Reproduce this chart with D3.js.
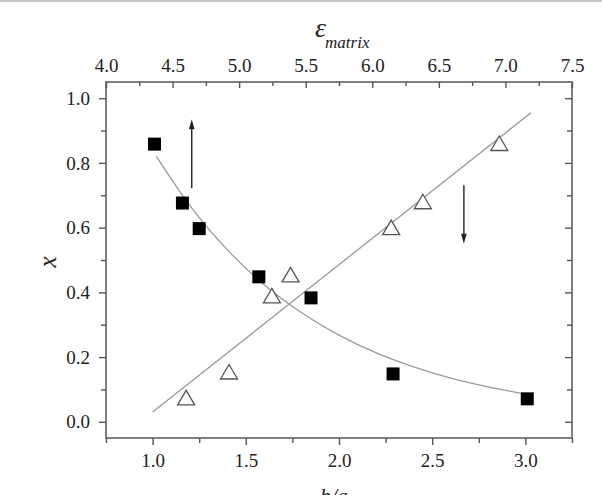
<html>
<head>
<meta charset="utf-8">
<script src="https://d3js.org/d3.v7.min.js"></script>
<style>
  body { margin: 0; background: #fff; }
  svg text { font-family: "Liberation Serif", "Times New Roman", "DejaVu Serif", "Noto Serif", serif; fill: #222; }
  .axis path, .axis line { stroke: #555; stroke-width: 1.4; }
</style>
</head>
<body>
<svg id="graph" width="602" height="495"></svg>
<script>
// filled squares
var squareX = [1.01, 1.16, 1.25, 1.57, 1.85, 2.29, 3.01];
var squareY = [0.858, 0.676, 0.597, 0.448, 0.383, 0.148, 0.071];
// open triangles
var triX = [1.18, 1.41, 1.64, 1.74, 2.28, 2.45, 2.86];
var triY = [0.074, 0.154, 0.389, 0.454, 0.600, 0.680, 0.860];
// fitted lines
var riseX = [1.00, 3.03];
var riseY = [0.030, 0.955];
var fallX = [1.02, 1.2, 1.4, 1.6, 1.8, 2.0, 2.2, 2.4, 2.6, 2.8, 3.0];
var fallY = [0.820, 0.668, 0.532, 0.423, 0.337, 0.268, 0.213, 0.170, 0.135, 0.108, 0.086];
// arrows [x, yFrom, yTo]
var arrowUp = [1.21, 0.722, 0.935];
var arrowDown = [2.67, 0.731, 0.550];
// ticks
var bottomTicks = [1.0, 1.5, 2.0, 2.5, 3.0];
var bottomMinor = [0.75, 1.25, 1.75, 2.25, 2.75, 3.25];
var topTicks = [4.0, 4.5, 5.0, 5.5, 6.0, 6.5, 7.0, 7.5];
var topMinor = [4.25, 4.75, 5.25, 5.75, 6.25, 6.75, 7.25];
var leftTicks = [0.0, 0.2, 0.4, 0.6, 0.8, 1.0];
var leftMinor = [0.1, 0.3, 0.5, 0.7, 0.9];

var FONT = '"Liberation Serif", "Times New Roman", "DejaVu Serif", serif';
var svg = d3.select("#graph");
var L = 106, R = 572, T = 82, B = 438;

var x = d3.scaleLinear().domain([0.75, 3.25]).range([L, R]);
var xTop = d3.scaleLinear().domain([4.0, 7.5]).range([L, R]);
var y = d3.scaleLinear().domain([-0.05, 1.05]).range([B, T]);

svg.append("rect").attr("x", 0).attr("y", 0).attr("width", 602).attr("height", 2)
    .attr("fill", "#c8c8c8");

function styleAxis(g) {
    g.attr("class", "axis").attr("font-family", FONT).attr("font-size", 19);
    g.select(".domain").remove();
    g.selectAll("text").attr("fill", "#222");
}

// bottom
svg.append("g").attr("transform", "translate(0," + B + ")")
    .call(d3.axisBottom(x).tickValues(bottomTicks).tickFormat(d3.format(".1f")).tickSize(7).tickPadding(9))
    .call(styleAxis);
svg.append("g").attr("transform", "translate(0," + B + ")")
    .call(d3.axisBottom(x).tickValues(bottomMinor).tickFormat("").tickSize(5))
    .call(styleAxis);
// top (ticks inward)
svg.append("g").attr("transform", "translate(0," + T + ")")
    .call(d3.axisTop(xTop).tickValues(topTicks).tickFormat(d3.format(".1f")).tickSize(-6).tickPadding(10))
    .call(styleAxis);
svg.append("g").attr("transform", "translate(0," + T + ")")
    .call(d3.axisTop(xTop).tickValues(topMinor).tickFormat("").tickSize(-4))
    .call(styleAxis);
// left
svg.append("g").attr("transform", "translate(" + L + ",0)")
    .call(d3.axisLeft(y).tickValues(leftTicks).tickFormat(d3.format(".1f")).tickSize(7).tickPadding(9))
    .call(styleAxis);
svg.append("g").attr("transform", "translate(" + L + ",0)")
    .call(d3.axisLeft(y).tickValues(leftMinor).tickFormat("").tickSize(5))
    .call(styleAxis);
// right (ticks inward)
svg.append("g").attr("transform", "translate(" + R + ",0)")
    .call(d3.axisRight(y).tickValues(leftTicks).tickFormat("").tickSize(-7))
    .call(styleAxis);
svg.append("g").attr("transform", "translate(" + R + ",0)")
    .call(d3.axisRight(y).tickValues(leftMinor).tickFormat("").tickSize(-5))
    .call(styleAxis);

// frame
svg.append("rect").attr("x", L).attr("y", T).attr("width", R - L).attr("height", B - T)
    .attr("fill", "none").attr("stroke", "#555").attr("stroke-width", 1.5);

// fit lines
var line = d3.line().x(d => x(d[0])).y(d => y(d[1]));
svg.append("path").attr("d", line(riseX.map((v, i) => [v, riseY[i]])))
    .attr("fill", "none").attr("stroke", "#9a9a9a").attr("stroke-width", 1.3);
svg.append("path").attr("d", line.curve(d3.curveMonotoneX)(fallX.map((v, i) => [v, fallY[i]])))
    .attr("fill", "none").attr("stroke", "#9a9a9a").attr("stroke-width", 1.3);

// triangles
svg.append("g").selectAll("path").data(triX.map((v, i) => [v, triY[i]])).enter()
    .append("path")
    .attr("transform", d => "translate(" + x(d[0]) + "," + y(d[1]) + ")")
    .attr("d", "M0,-7.5L8.5,7L-8.5,7Z")
    .attr("fill", "#fff").attr("stroke", "#555").attr("stroke-width", 1.3);

// squares
svg.append("g").selectAll("rect").data(squareX.map((v, i) => [v, squareY[i]])).enter()
    .append("rect")
    .attr("x", d => x(d[0]) - 6.5).attr("y", d => y(d[1]) - 6.5)
    .attr("width", 13).attr("height", 13).attr("fill", "#000");

// arrows
function arrow(a) {
    var ax = x(a[0]), y0 = y(a[1]), y1 = y(a[2]);
    var dir = y1 < y0 ? -1 : 1;
    svg.append("line").attr("x1", ax).attr("x2", ax).attr("y1", y0).attr("y2", y1 - dir * 6)
        .attr("stroke", "#222").attr("stroke-width", 1.4);
    svg.append("path")
        .attr("d", "M" + ax + "," + y1 + "L" + (ax + 2.8) + "," + (y1 - dir * 10) + "L" + (ax - 2.8) + "," + (y1 - dir * 10) + "Z")
        .attr("fill", "#222");
}
arrow(arrowUp);
arrow(arrowDown);

// axis titles
svg.append("text").attr("x", 47).attr("y", (T + B) / 2 + 2)
    .attr("transform", "rotate(-90,47," + ((T + B) / 2 + 2) + ")")
    .attr("text-anchor", "middle").attr("dy", "0.35em")
    .style("font-style", "italic").style("font-size", "25px").text("x");
svg.append("text").attr("x", (L + R) / 2 - 5).attr("y", 503)
    .attr("text-anchor", "middle")
    .style("font-style", "italic").style("font-size", "22px").text("b/a");
var t = svg.append("text").attr("x", 315).attr("y", 37);
t.append("tspan").style("font-style", "italic").style("font-size", "28px").text("ε");
t.append("tspan").attr("dy", 11).attr("dx", -1).style("font-style", "italic").style("font-size", "17px").text("matrix");
</script>
</body>
</html>
